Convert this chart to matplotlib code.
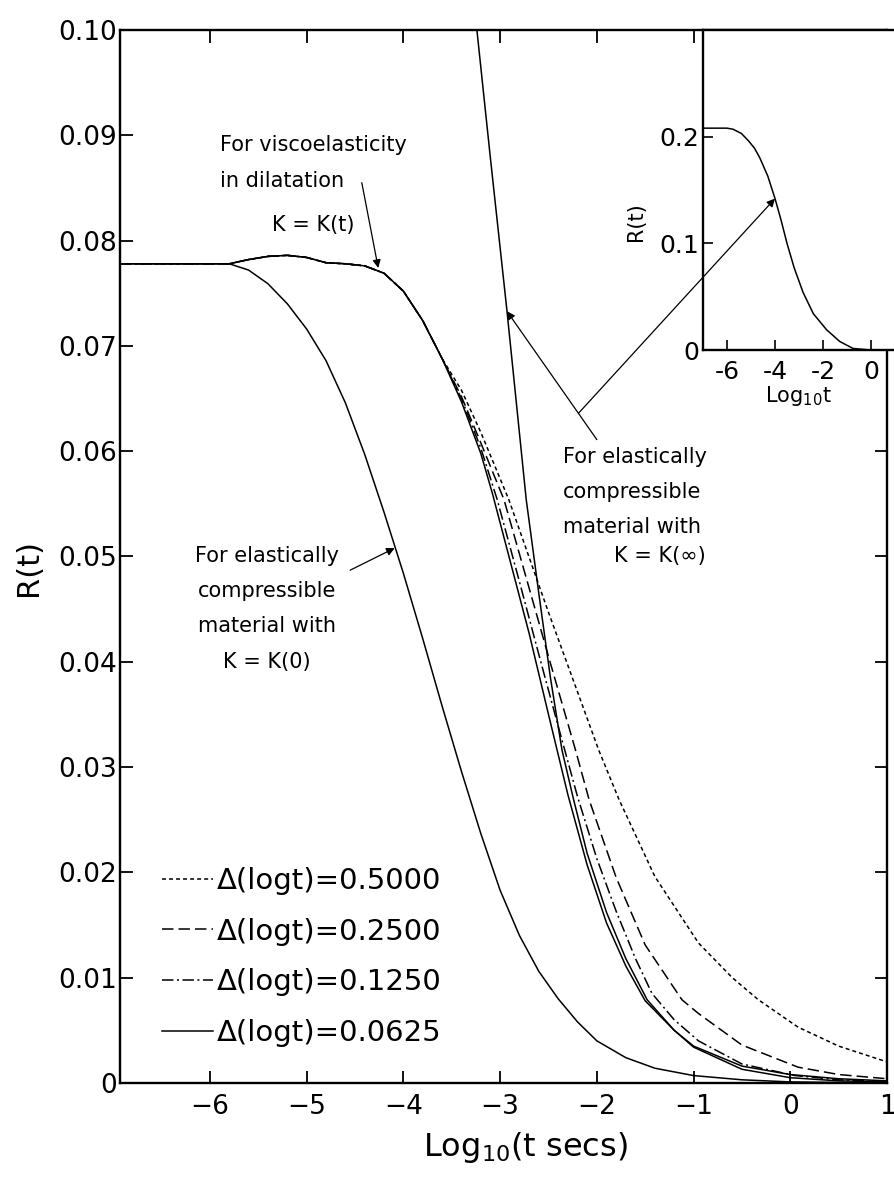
import numpy as np
import matplotlib
matplotlib.use("Agg")
import matplotlib.pyplot as plt

plt.rcParams['font.family'] = ['DejaVu Sans']

# shared early part of the four viscoelastic solutions
x_common = [-6.93, -5.8, -5.6, -5.4, -5.2, -5.0, -4.8, -4.6, -4.4, -4.2, -4.0, -3.8, -3.6]
y_common = [0.0778, 0.0778, 0.0782, 0.0785, 0.0786, 0.0784, 0.0779, 0.0778, 0.0776,
            0.0769, 0.0752, 0.0724, 0.0688]

# tails of each solution, delta(log t) step
x_0625 = [-3.4, -3.2, -3.08, -2.9, -2.7, -2.5, -2.3, -2.1, -1.9, -1.7, -1.5, -1.2, -1.0, -0.5, 0.0, 0.5, 1.0]
y_0625 = [0.0647, 0.0598, 0.0560, 0.0497, 0.0427, 0.0350, 0.0274, 0.0207, 0.0152, 0.0111,
          0.0078, 0.0050, 0.0035, 0.0016, 0.0008, 0.0004, 0.0002]

x_1250 = [-3.4, -3.2, -3.03, -2.8, -2.6, -2.4, -2.2, -2.0, -1.8, -1.6, -1.43, -1.2, -0.95, -0.5, 0.05, 0.5, 1.0]
y_1250 = [0.0650, 0.0603, 0.0554, 0.0476, 0.0407, 0.0339, 0.0272, 0.0213, 0.0163, 0.0118,
          0.0085, 0.0060, 0.0040, 0.0018, 0.0007, 0.0003, 0.0001]

x_2500 = [-3.4, -3.2, -2.96, -2.7, -2.5, -2.22, -2.08, -1.8, -1.5, -1.12, -0.95, -0.5, 0.08, 0.5, 1.0]
y_2500 = [0.0652, 0.0608, 0.0554, 0.0470, 0.0405, 0.0316, 0.0269, 0.0195, 0.0131, 0.0079,
          0.0066, 0.0036, 0.0015, 0.0008, 0.0004]

x_5000 = [-3.4, -3.2, -2.91, -2.5, -1.98, -1.77, -1.4, -0.95, -0.6, -0.33, 0.08, 0.5, 1.0]
y_5000 = [0.0658, 0.0618, 0.0554, 0.0447, 0.0316, 0.0269, 0.0196, 0.0133, 0.0100, 0.0079,
          0.0053, 0.0035, 0.0020]

# elastic compressible, K = K(0)
x_k0 = [-6.93, -5.8, -5.6, -5.4, -5.2, -5.0, -4.8, -4.6, -4.4, -4.2, -4.0, -3.8, -3.6, -3.4,
        -3.2, -3.0, -2.8, -2.6, -2.4, -2.2, -2.0, -1.7, -1.4, -1.0, -0.5, 0.0, 1.0]
y_k0 = [0.0778, 0.0778, 0.0772, 0.0759, 0.0740, 0.0716, 0.0686, 0.0646, 0.0597, 0.0542,
        0.0484, 0.0422, 0.0358, 0.0296, 0.0237, 0.0183, 0.0140, 0.0106, 0.0080, 0.0058,
        0.0040, 0.0024, 0.0014, 0.0007, 0.0003, 0.0001, 0.0]

# elastic compressible, K = K(inf)
x_kinf = [-3.32, -3.24, -3.1, -2.93, -2.73, -2.6, -2.48, -2.36, -2.24, -2.1, -1.9, -1.7,
          -1.48, -1.2, -1.0, -0.5, 0.0, 0.5, 1.0]
y_kinf = [0.107, 0.100, 0.0878, 0.0734, 0.0554, 0.0465, 0.0385, 0.0316, 0.0269, 0.0218,
          0.0162, 0.0118, 0.0079, 0.0050, 0.0034, 0.0013, 0.0005, 0.0002, 0.0001]

# inset: full K(inf) curve
x_inset = [-7.0, -6.0, -5.75, -5.4, -5.1, -4.85, -4.63, -4.3, -4.0, -3.75, -3.5, -3.2,
           -2.83, -2.4, -1.85, -1.3, -0.75, 0.0, 0.96]
y_inset = [0.208, 0.208, 0.207, 0.203, 0.196, 0.189, 0.180, 0.163, 0.142, 0.122, 0.100,
           0.077, 0.054, 0.034, 0.019, 0.008, 0.0015, 0.0, 0.0]

xticks = [-6, -5, -4, -3, -2, -1, 0, 1]
xtick_labels = ['\u22126', '\u22125', '\u22124', '\u22123', '\u22122', '\u22121', '0', '1']
yticks = [0, 0.01, 0.02, 0.03, 0.04, 0.05, 0.06, 0.07, 0.08, 0.09, 0.10]
ytick_labels = ['0', '0.01', '0.02', '0.03', '0.04', '0.05', '0.06', '0.07', '0.08', '0.09', '0.10']
inset_xticks = [-6, -4, -2, 0]
inset_xtick_labels = ['-6', '-4', '-2', '0']
inset_yticks = [0, 0.1, 0.2]
inset_ytick_labels = ['0', '0.1', '0.2']

labels = ['\u0394(logt)=0.5000', '\u0394(logt)=0.2500',
          '\u0394(logt)=0.1250', '\u0394(logt)=0.0625']

fig = plt.figure(figsize=(8.94, 11.77), dpi=100)
ax = fig.add_axes([0.1342, 0.0799, 0.858, 0.8946])

lw = 1.1
ax.plot(x_k0, y_k0, color='k', lw=lw)
ax.plot(x_kinf, y_kinf, color='k', lw=lw)
l4, = ax.plot(x_common + x_0625, y_common + y_0625, color='k', lw=lw, ls='-')
l3, = ax.plot(x_common + x_1250, y_common + y_1250, color='k', lw=lw, dashes=(7.5, 2.3, 1.3, 2.3))
l2, = ax.plot(x_common + x_2500, y_common + y_2500, color='k', lw=lw, dashes=(7.5, 3.3))
l1, = ax.plot(x_common + x_5000, y_common + y_5000, color='k', lw=lw, dashes=(2.6, 2.0))

ax.set_xlim(-6.93, 1.0)
ax.set_ylim(0, 0.10)
ax.set_xticks(xticks)
ax.set_xticklabels(xtick_labels)
ax.set_yticks(yticks)
ax.set_yticklabels(ytick_labels)
ax.tick_params(direction='in', length=9, width=1.3, labelsize=19, top=True, right=True)
ax.tick_params(axis='y', pad=2)
ax.tick_params(axis='x', pad=8)
for s in ax.spines.values():
    s.set_linewidth(1.7)

ax.set_xlabel(r'Log$_{10}$(t secs)', fontsize=23)
ax.xaxis.set_label_coords(0.528, -0.045)
ax.set_ylabel('R(t)', fontsize=22)
ax.yaxis.set_label_coords(-0.1, 0.49)

leg = ax.legend([l1, l2, l3, l4], labels, loc='lower left', bbox_to_anchor=(0.055, 0.034),
                frameon=False, fontsize=21, handlelength=1.75, handletextpad=0.12,
                labelspacing=0.78, borderpad=0, borderaxespad=0)

afs = 15
arrow = dict(arrowstyle='-|>', lw=0.9, color='k', mutation_scale=12, shrinkA=0, shrinkB=0)

ax.text(-5.9, 0.0900, 'For viscoelasticity\nin dilatation', fontsize=afs,
        ha='left', va='top', linespacing=1.95)
ax.text(-4.93, 0.0815, 'K = K(t)', fontsize=afs, ha='center', va='center')
ax.annotate('', xy=(-4.26, 0.0774), xytext=(-4.43, 0.0855), arrowprops=arrow)

ax.text(-5.41, 0.0510, 'For elastically\ncompressible\nmaterial with\nK = K(0)', fontsize=afs,
        ha='center', va='top', linespacing=1.95)
ax.annotate('', xy=(-4.09, 0.0508), xytext=(-4.55, 0.0487), arrowprops=arrow)

ax.text(-2.35, 0.0604, 'For elastically\ncompressible\nmaterial with', fontsize=afs,
        ha='left', va='top', linespacing=1.95)
ax.text(-1.35, 0.0500, 'K = K(\u221e)', fontsize=afs, ha='center', va='center')
ax.annotate('', xy=(-2.93, 0.0733), xytext=(-2.0, 0.0611), arrowprops=arrow)

# inset
ax_in = fig.add_axes([0.7864, 0.7026, 0.2136, 0.2719])
ax_in.plot(x_inset, y_inset, color='k', lw=lw)
ax_in.set_xlim(-7.0, 0.96)
ax_in.set_ylim(0, 0.30)
ax_in.set_xticks(inset_xticks)
ax_in.set_xticklabels(inset_xtick_labels)
ax_in.set_yticks(inset_yticks)
ax_in.set_yticklabels(inset_ytick_labels)
ax_in.tick_params(direction='in', length=7, width=1.2, labelsize=18, pad=3)
ax_in.tick_params(axis='x', pad=7)
ax_in.spines['right'].set_visible(False)
for s in ax_in.spines.values():
    s.set_linewidth(1.7)
ax_in.set_xlabel(r'Log$_{10}$t', fontsize=15, labelpad=0)
ax_in.set_ylabel('R(t)', fontsize=15)
ax_in.yaxis.set_label_coords(-0.30, 0.40)

ax_in.annotate('', xy=(-4.0, 0.142), xycoords='data', xytext=(-2.19, 0.0636),
               textcoords=ax.transData, arrowprops=arrow, annotation_clip=False)

fig.savefig('out.png', dpi=100)
